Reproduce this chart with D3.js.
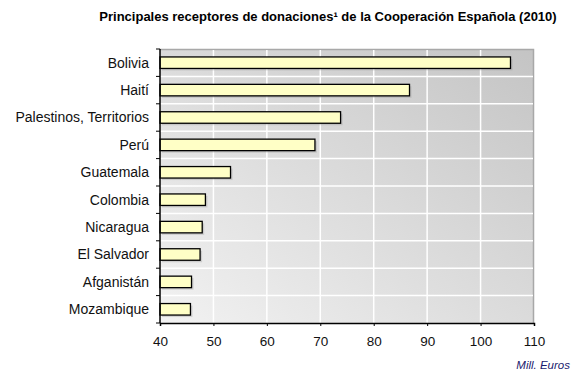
<!DOCTYPE html>
<html>
<head>
<meta charset="utf-8">
<script src="https://cdn.jsdelivr.net/npm/d3@7"></script>
<style>
  body { margin: 0; background: #fff; }
  text { font-family: "Liberation Sans", Arial, sans-serif; }
</style>
</head>
<body>
<div id="chart"></div>
<script>
var countries = ["Bolivia", "Haití", "Palestinos, Territorios", "Perú", "Guatemala",
                 "Colombia", "Nicaragua", "El Salvador", "Afganistán", "Mozambique"];
var values = [105.6, 86.7, 73.8, 69.0, 53.2, 48.5, 47.9, 47.5, 45.9, 45.7];
var xTicks = [40, 50, 60, 70, 80, 90, 100, 110];

var margin = {top: 49, right: 47, bottom: 54, left: 160},
    width = 581 - margin.left - margin.right,
    height = 377 - margin.top - margin.bottom;

var svg = d3.select("#chart").append("svg")
    .attr("width", 581)
    .attr("height", 377);

// background gradient of the plot area
var grad = svg.append("defs").append("linearGradient")
    .attr("id", "bg")
    .attr("x1", "0%").attr("y1", "100%")
    .attr("x2", "100%").attr("y2", "0%");
grad.append("stop").attr("offset", "0%").attr("stop-color", "#f2f2f2");
grad.append("stop").attr("offset", "100%").attr("stop-color", "#c4c4c4");

svg.append("text")
    .attr("x", 328)
    .attr("y", 21)
    .attr("text-anchor", "middle")
    .style("font-size", "13px")
    .style("font-weight", "bold")
    .text("Principales receptores de donaciones¹ de la Cooperación Española (2010)");

var g = svg.append("g")
    .attr("transform", "translate(" + margin.left + "," + margin.top + ")");

var x = d3.scaleLinear().domain([40, 110]).range([0, width]);
var y = d3.scaleBand().domain(countries).range([0, height]).paddingInner(0.58).paddingOuter(0.29);
var yb = d3.scaleBand().domain(countries).range([0, height]);

g.append("rect")
    .attr("width", width)
    .attr("height", height)
    .style("fill", "url(#bg)");

// shadow on top and right edges
g.append("path")
    .attr("d", "M0,0.5H" + (width - 0.5) + "V" + height)
    .style("fill", "none")
    .style("stroke", "#a8a8a8")
    .style("stroke-width", 1.5);

// gridlines
g.selectAll(".vgrid")
    .data(xTicks.slice(1, -1))
  .enter().append("line")
    .attr("x1", function(d) { return x(d); })
    .attr("x2", function(d) { return x(d); })
    .attr("y1", 1)
    .attr("y2", height)
    .style("stroke", "#fff")
    .style("stroke-width", 1.5);

g.selectAll(".hgrid")
    .data(countries.slice(1))
  .enter().append("line")
    .attr("x1", 0)
    .attr("x2", width - 1)
    .attr("y1", function(d) { return yb(d); })
    .attr("y2", function(d) { return yb(d); })
    .style("stroke", "#fff")
    .style("stroke-width", 1.5);

// bar shadows
g.selectAll(".shadow")
    .data(countries)
  .enter().append("rect")
    .attr("x", 2)
    .attr("y", function(d) { return y(d) + 2; })
    .attr("width", function(d, i) { return x(values[i]); })
    .attr("height", y.bandwidth())
    .style("fill", "#999")
    .style("opacity", 0.35);

// bars
g.selectAll(".bar")
    .data(countries)
  .enter().append("rect")
    .attr("x", 0)
    .attr("y", function(d) { return y(d); })
    .attr("width", function(d, i) { return x(values[i]); })
    .attr("height", y.bandwidth())
    .style("fill", "#ffffc6")
    .style("stroke", "#000")
    .style("stroke-width", 1.3);

// y axis with ticks at the band edges
var yAxis = g.append("g");
yAxis.append("line")
    .attr("x1", 0).attr("x2", 0)
    .attr("y1", 0).attr("y2", height)
    .style("stroke", "#000").style("stroke-width", 1.5);
yAxis.selectAll(".tick")
    .data(countries.concat(["end"]))
  .enter().append("line")
    .attr("x1", -4).attr("x2", 0)
    .attr("y1", function(d, i) { return i * yb.step(); })
    .attr("y2", function(d, i) { return i * yb.step(); })
    .style("stroke", "#000");
yAxis.selectAll(".lab")
    .data(countries)
  .enter().append("text")
    .attr("x", -11)
    .attr("y", function(d) { return yb(d) + yb.bandwidth() / 2; })
    .attr("dy", "0.35em")
    .attr("text-anchor", "end")
    .style("font-size", "14px")
    .style("fill", "#111")
    .text(function(d) { return d; });

// x axis
var xAxis = d3.axisBottom(x).tickValues(xTicks).tickSize(3).tickPadding(10);
var xg = g.append("g")
    .attr("transform", "translate(0," + height + ")")
    .call(xAxis);
xg.select(".domain").style("stroke-width", 1.5);
xg.selectAll("text")
    .style("font-size", "13.5px")
    .style("font-family", "'Liberation Sans', Arial, sans-serif")
    .style("fill", "#111");

svg.append("text")
    .attr("x", 570)
    .attr("y", 369)
    .attr("text-anchor", "end")
    .style("font-size", "11.5px")
    .style("font-style", "italic")
    .style("fill", "#1a1a6e")
    .text("Mill. Euros");
</script>
</body>
</html>
